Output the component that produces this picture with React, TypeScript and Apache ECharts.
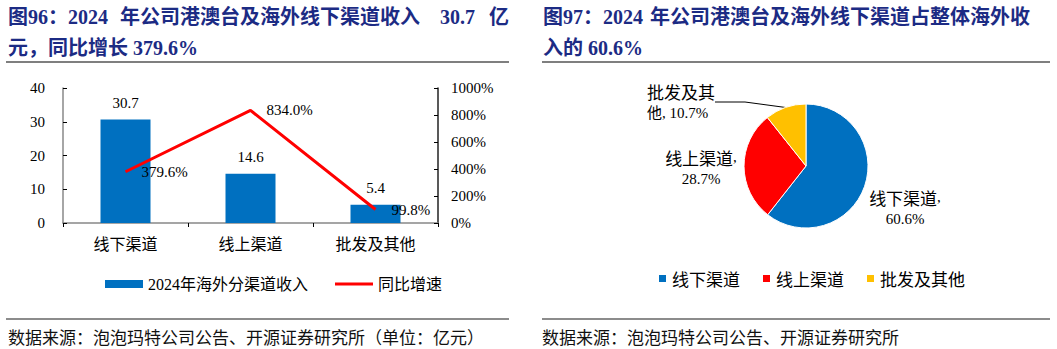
import React, { useEffect, useRef } from 'react';
import * as echarts from 'echarts';

// ---- data ----
const categories = ['线下渠道', '线上渠道', '批发及其他'];
const revenue = [30.7, 14.6, 5.4]; // 亿元
const growth = [379.6, 834.0, 99.8]; // %
const leftTicks = [0, 10, 20, 30, 40];
const rightTicks = [0, 200, 400, 600, 800, 1000];
const shareNames = ['线下渠道', '线上渠道', '批发及其他'];
const shareValues = [60.6, 28.7, 10.7];
const shareColors = ['#0070C0', '#FF0000', '#FFC000'];
const barName = '2024年海外分渠道收入';
const lineName = '同比增速';

const SERIF = '"Liberation Serif", "Noto Sans CJK SC", serif';
const CJK = '"Noto Sans CJK SC", sans-serif';
const TITLE_COLOR = '#1C2B84';

function titleText(text: string, x: number, y: number, align: string = 'left') {
  return {
    type: 'text',
    style: {
      text,
      x,
      y,
      fill: TITLE_COLOR,
      font: `bold 20px ${SERIF}`,
      textAlign: align,
      textVerticalAlign: 'middle',
    },
  };
}

function hline(x1: number, x2: number, y: number, color: string, w: number) {
  return {
    type: 'line',
    shape: { x1, y1: y, x2, y2: y },
    style: { stroke: color, lineWidth: w },
  };
}

function sourceText(text: string, x: number, y: number) {
  return {
    type: 'text',
    style: {
      text,
      x,
      y,
      fill: '#111',
      font: `17px ${CJK}`,
      textVerticalAlign: 'middle',
    },
  };
}

export default function App() {
  const ref = useRef<HTMLDivElement>(null);

  useEffect(() => {
    document.body.style.margin = '0';
    const chart = echarts.init(ref.current!, undefined, { renderer: 'svg' });

    const pieLabelPos = [
      { x: 905, y: 208, align: 'center' },
      { x: 701, y: 168, align: 'center' },
      { x: 647, y: 102, align: 'left' },
    ];

    const option: any = {
      animation: false,
      backgroundColor: '#fff',
      textStyle: { fontFamily: SERIF },
      grid: { left: 63, right: 619, top: 88, bottom: 126 },
      legend: [
        {
          left: 100,
          top: 271,
          itemWidth: 38,
          itemHeight: 8,
          itemGap: 27,
          textStyle: { fontSize: 16, fontFamily: SERIF, color: '#000' },
          data: [
            { name: barName, icon: 'rect' },
            { name: lineName, icon: 'path://M0,0H38V3H0Z' },
          ],
        },
        {
          left: 652,
          top: 265,
          itemWidth: 9,
          itemHeight: 9,
          itemGap: 21,
          icon: 'rect',
          textStyle: { fontSize: 17, fontFamily: CJK, color: '#000' },
          data: shareNames,
        },
      ],
      xAxis: {
        type: 'category',
        data: categories,
        axisLine: { show: true, lineStyle: { color: '#888', width: 1.5 } },
        axisTick: { show: true, inside: false, length: 4, lineStyle: { color: '#000' } },
        axisLabel: { color: '#000', fontSize: 16, fontFamily: CJK, margin: 12 },
      },
      yAxis: [
        {
          type: 'value',
          min: leftTicks[0],
          max: leftTicks[leftTicks.length - 1],
          interval: leftTicks[1] - leftTicks[0],
          axisLine: { show: true, lineStyle: { color: '#888', width: 1.5 } },
          axisTick: { show: true, inside: true, length: 4, lineStyle: { color: '#000' } },
          splitLine: { show: false },
          axisLabel: { color: '#000', fontSize: 15, fontFamily: SERIF, margin: 18 },
        },
        {
          type: 'value',
          position: 'right',
          min: rightTicks[0],
          max: rightTicks[rightTicks.length - 1],
          interval: rightTicks[1] - rightTicks[0],
          axisLine: { show: true, lineStyle: { color: '#222', width: 1.5 } },
          axisTick: { show: true, inside: true, length: 4, lineStyle: { color: '#000' } },
          splitLine: { show: false },
          axisLabel: {
            color: '#000',
            fontSize: 15,
            fontFamily: SERIF,
            margin: 13,
            formatter: (v: number) => `${v}%`,
          },
        },
      ],
      series: [
        {
          type: 'bar',
          name: barName,
          data: revenue,
          barWidth: '40%',
          itemStyle: { color: '#0070C0' },
          label: {
            show: true,
            position: 'top',
            distance: 9,
            color: '#000',
            fontSize: 15,
            fontFamily: SERIF,
          },
        },
        {
          type: 'line',
          name: lineName,
          yAxisIndex: 1,
          data: growth,
          symbol: 'circle',
          symbolSize: 0,
          showSymbol: true,
          lineStyle: { color: '#FF0000', width: 3 },
          itemStyle: { color: '#FF0000' },
          label: {
            show: true,
            position: 'right',
            distance: 16,
            color: '#000',
            opacity: 1,
            textBorderWidth: 0,
            textShadowBlur: 0,
            fontSize: 15,
            fontFamily: SERIF,
            formatter: (p: any) => `${Number(p.value).toFixed(1)}%`,
          },
        },
        {
          type: 'pie',
          name: '占比',
          center: [806, 166],
          radius: 62,
          startAngle: 90,
          clockwise: true,
          data: shareNames.map((name, i) => ({
            name,
            value: shareValues[i],
            itemStyle: { color: shareColors[i] },
            labelLine: { show: i === 2 },
          })),
          itemStyle: { borderColor: '#fff', borderWidth: 1 },
          label: {
            show: true,
            position: 'outside',
            color: '#000',
            fontSize: 15,
            lineHeight: 22,
            fontFamily: SERIF,
            rich: {
              z: { fontSize: 17, fontFamily: CJK, lineHeight: 22, color: '#000' },
            },
            formatter: (p: any) =>
              p.dataIndex === 2
                ? `{z|${p.name.slice(0, 4)}}\n${p.name.slice(4)}, ${p.value.toFixed(1)}%`
                : `{z|${p.name}},\n${p.value.toFixed(1)}%`,
          },
          labelLine: {
            show: true,
            lineStyle: { color: '#000', width: 1 },
          },
          labelLayout: (params: any) => {
            const pos = pieLabelPos[params.dataIndex];
            return { x: pos.x, y: pos.y, align: pos.align, verticalAlign: 'middle' };
          },
        },
      ],
      graphic: [
        titleText('图96：2024', 8, 17),
        titleText('年公司港澳台及海外线下渠道收入', 120, 17),
        titleText('30.7', 440, 17),
        titleText('亿', 509, 17, 'right'),
        titleText('元，同比增长 379.6%', 8, 48),
        titleText('图97：2024', 543, 17),
        titleText('年公司港澳台及海外线下渠道占整体海外收', 650, 17),
        titleText('入的 60.6%', 543, 48),
        hline(6, 509, 62, '#555', 1.5),
        hline(542, 1050, 62, '#555', 1.5),
        hline(6, 509, 319, '#666', 1.5),
        hline(542, 1050, 319, '#666', 1.5),
        sourceText('数据来源：泡泡玛特公司公告、开源证券研究所（单位：亿元）', 8, 336),
        sourceText('数据来源：泡泡玛特公司公告、开源证券研究所', 542, 336),
      ],
    };

    chart.setOption(option);
    return () => chart.dispose();
  }, []);

  return (
    <div
      ref={ref}
      style={{ position: 'fixed', left: 0, top: 0, width: 1057, height: 349, background: '#fff' }}
    />
  );
}
